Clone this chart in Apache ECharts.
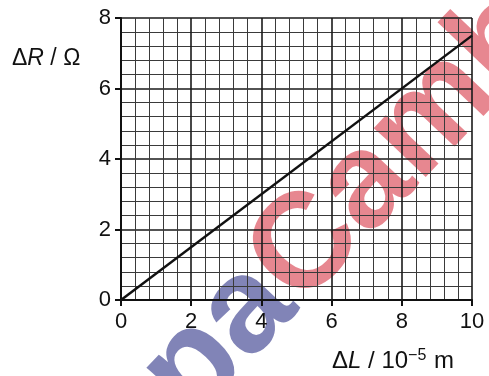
<!DOCTYPE html>
<html>
<head>
<meta charset="utf-8">
<script src="https://cdn.jsdelivr.net/npm/echarts@6/dist/echarts.min.js"></script>
<style>
  html, body { margin: 0; padding: 0; background: #fff; }
  #chart { width: 489px; height: 376px; }
</style>
</head>
<body>
<div id="chart"></div>
<script>
// Change in length (units of 10^-5 m) and change in resistance (ohm)
const deltaL = [0, 10];
const deltaR = [0, 7.5];
// Axis tick labels
const xTicks = [0, 2, 4, 6, 8, 10];
const yTicks = [0, 2, 4, 6, 8];

const FONT = '"Liberation Sans", Arial, Helvetica, sans-serif';
const INK = '#111';
const MARK_SIZE = 135;

const points = deltaL.map((x, i) => [x, deltaR[i]]);

const chart = echarts.init(document.getElementById('chart'), null, { renderer: 'canvas' });

const axisCommon = {
  type: 'value',
  interval: 2,
  axisLine: { show: true, onZero: false, lineStyle: { color: INK, width: 2 } },
  axisTick: { show: true, inside: false, length: 6, lineStyle: { color: INK, width: 2 } },
  axisLabel: { color: INK, fontSize: 22, fontFamily: FONT },
  splitLine: { show: true, lineStyle: { color: '#1a1a1a', width: 1.6 } },
  minorTick: { show: false, splitNumber: 5 },
  minorSplitLine: { show: true, lineStyle: { color: '#3a3a3a', width: 1 } }
};

chart.setOption({
  animation: false,
  backgroundColor: '#fff',
  grid: { left: 121, top: 18, width: 351, height: 282, containLabel: false },
  xAxis: Object.assign({}, axisCommon, {
    min: 0, max: xTicks[xTicks.length - 1],
    axisLabel: Object.assign({}, axisCommon.axisLabel, {
      margin: 11,
      formatter: v => (xTicks.indexOf(v) >= 0 ? String(v) : '')
    })
  }),
  yAxis: Object.assign({}, axisCommon, {
    min: 0, max: yTicks[yTicks.length - 1],
    axisLabel: Object.assign({}, axisCommon.axisLabel, {
      margin: 10,
      formatter: v => (yTicks.indexOf(v) >= 0 ? String(v) : '')
    })
  }),
  series: [{
    type: 'line',
    data: points,
    symbol: 'none',
    lineStyle: { color: INK, width: 2.5 },
    z: 5
  }],
  graphic: [
    // y axis title: ΔR / Ω
    {
      type: 'text',
      left: 12, top: 47,
      style: {
        text: 'Δ{i|R} / Ω',
        font: '23px ' + FONT,
        fill: INK,
        rich: { i: { fontStyle: 'italic', fontSize: 23, fontFamily: FONT, fill: INK } }
      }
    },
    // x axis title: ΔL / 10^-5 m
    {
      type: 'text',
      left: 332, top: 348,
      style: {
        text: 'Δ{i|L} / 10{s|−5} m',
        font: '24px ' + FONT,
        fill: INK,
        rich: {
          i: { fontStyle: 'italic', fontSize: 24, fontFamily: FONT, fill: INK },
          s: { fontSize: 16, fontFamily: FONT, fill: INK, padding: [0, 1, 10, 0] }
        }
      }
    },
    // site watermark
    {
      type: 'group',
      x: 193, y: 424,
      rotation: 46.5 * Math.PI / 180,
      z: 100,
      children: [
        {
          type: 'text',
          x: 0, y: -106,
          style: {
            text: 'pa',
            font: 'bold ' + MARK_SIZE + 'px ' + FONT,
            fill: 'rgba(45, 50, 135, 0.6)'
          }
        },
        {
          type: 'text',
          x: 1.167 * MARK_SIZE, y: -106,
          style: {
            text: 'Cambridge',
            font: 'bold ' + MARK_SIZE + 'px ' + FONT,
            fill: 'rgba(215, 55, 70, 0.6)'
          }
        }
      ]
    }
  ]
});
</script>
</body>
</html>
